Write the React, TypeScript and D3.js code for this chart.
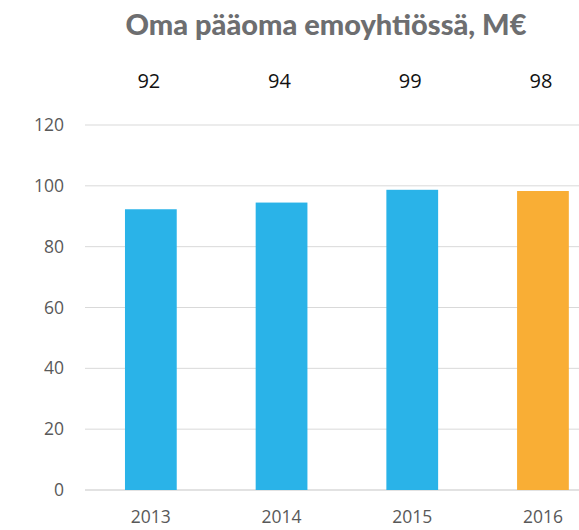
import React from "react";
import * as d3 from "d3";

const categories = ["2013", "2014", "2015", "2016"];
const values = [92.3, 94.5, 98.7, 98.3];
const valueLabels = ["92", "94", "99", "98"];
const yTicks = [0, 20, 40, 60, 80, 100, 120];
const title = "Oma pääoma emoyhtiössä, M€";

const W = 579;
const H = 530;

export default function App() {
  const x = d3
    .scaleBand<string>()
    .domain(categories)
    .range([85.5, 608.3])
    .paddingInner(0.604)
    .paddingOuter(0.302);
  const y = d3.scaleLinear().domain([0, 120]).range([490, 125]);
  const font = "'Open Sans', sans-serif";
  return (
    <svg
      width={W}
      height={H}
      style={{ position: "absolute", left: 0, top: 0, background: "#fff" }}
    >
      <text
        x={326}
        y={35}
        textAnchor="middle"
        fontFamily="Lato, sans-serif"
        fontWeight={900}
        fontSize={29}
        fill="#6D6E70"
      >
        {title}
      </text>
      {yTicks.map((t) => (
        <g key={t}>
          <line
            x1={85}
            x2={W}
            y1={y(t)}
            y2={y(t)}
            stroke="#D9D9D9"
            strokeWidth={t === 0 ? 1.5 : 1}
          />
          <text
            x={64}
            y={y(t)}
            dy="0.35em"
            textAnchor="end"
            fontFamily={font}
            fontSize={17.5}
            fill="#595959"
          >
            {t}
          </text>
        </g>
      ))}
      {categories.map((c, i) => (
        <g key={c}>
          <rect
            x={x(c)}
            y={y(values[i])}
            width={x.bandwidth()}
            height={y(0) - y(values[i])}
            fill={i === categories.length - 1 ? "#F9AE35" : "#2AB3E8"}
          />
          <text
            x={(x(c) as number) + x.bandwidth() / 2}
            y={523}
            textAnchor="middle"
            fontFamily={font}
            fontSize={17.5}
            fill="#595959"
          >
            {c}
          </text>
          <text
            x={(x(c) as number) + x.bandwidth() / 2 - 2}
            y={87.5}
            textAnchor="middle"
            fontFamily={font}
            fontSize={20}
            fill="#111"
          >
            {valueLabels[i]}
          </text>
        </g>
      ))}
    </svg>
  );
}
